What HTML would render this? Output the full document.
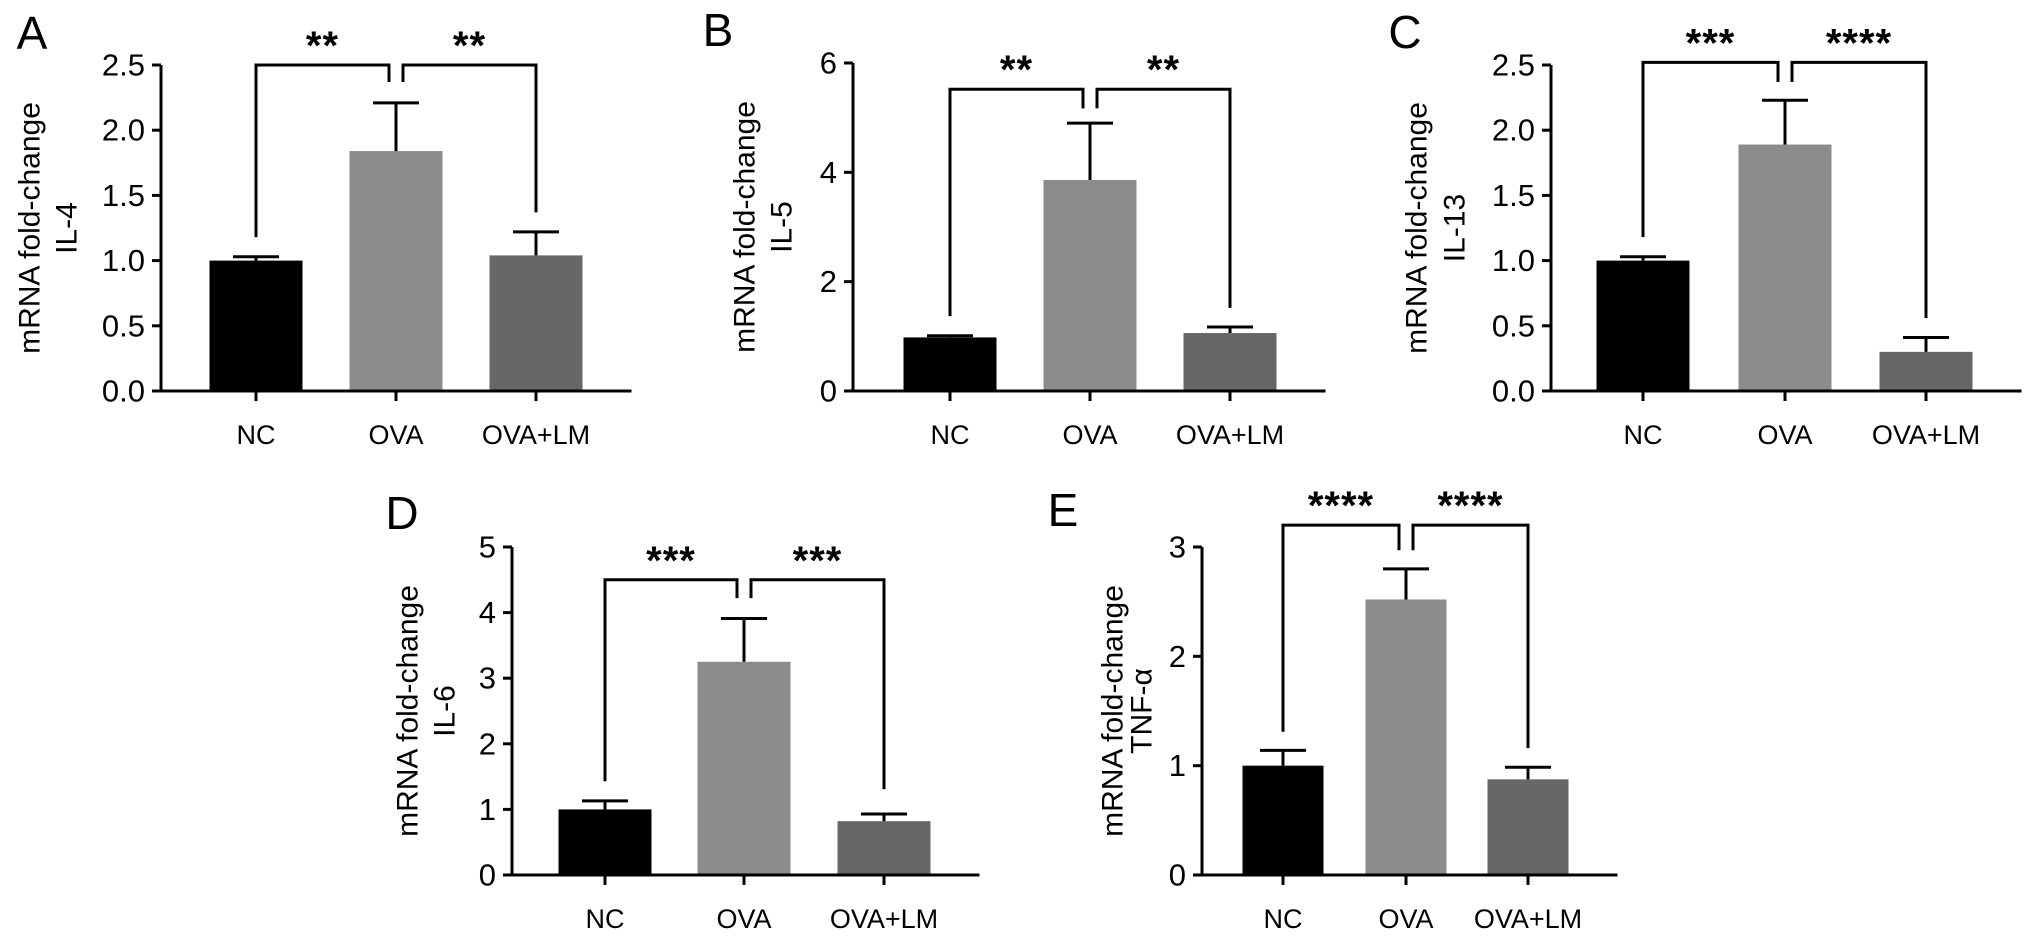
<!DOCTYPE html>
<html><head><meta charset="utf-8">
<style>
html,body{margin:0;padding:0;background:#fff;}
svg{display:block;font-family:"Liberation Sans",Arial,sans-serif;}
</style></head>
<body>
<svg id="fig" width="2032" height="941" viewBox="0 0 2032 941" xmlns="http://www.w3.org/2000/svg"></svg>
<script>
const categories = ["NC","OVA","OVA+LM"];
const barColors = ["#000000","#8c8c8c","#676767"];

const valuesA = [1.0, 1.84, 1.04];
const errorsA = [1.03, 2.21, 1.22];
const ticksA = ["0.0","0.5","1.0","1.5","2.0","2.5"];
const starsA = ["**","**"];
const bracketA = [2.5, 1.18, 2.37, 1.37];

const valuesB = [0.98, 3.86, 1.06];
const errorsB = [1.01, 4.9, 1.17];
const ticksB = ["0","2","4","6"];
const starsB = ["**","**"];
const bracketB = [5.52, 1.37, 5.17, 1.52];

const valuesC = [1.0, 1.89, 0.30];
const errorsC = [1.03, 2.23, 0.41];
const ticksC = ["0.0","0.5","1.0","1.5","2.0","2.5"];
const starsC = ["***","****"];
const bracketC = [2.52, 1.18, 2.37, 0.56];

const valuesD = [1.0, 3.25, 0.82];
const errorsD = [1.13, 3.91, 0.93];
const ticksD = ["0","1","2","3","4","5"];
const starsD = ["***","***"];
const bracketD = [4.5, 1.43, 4.22, 1.31];

const valuesE = [1.0, 2.52, 0.875];
const errorsE = [1.14, 2.80, 0.985];
const ticksE = ["0","1","2","3"];
const starsE = ["****","****"];
const bracketE = [3.2, 1.31, 2.97, 1.16];

const NS = "http://www.w3.org/2000/svg";
const svg = document.getElementById("fig");
function mk(tag, attrs, parent){
  const e = document.createElementNS(NS, tag);
  for (const k in attrs) e.setAttribute(k, attrs[k]);
  (parent||svg).appendChild(e);
  return e;
}

function panel(cfg){
  const g = mk("g", {});
  
  
  const yMax = parseFloat(cfg.ticks[cfg.ticks.length-1]);
  const ys = v => cfg.y0 - (v / yMax) * (cfg.y0 - cfg.yTop);
  const xs = i => cfg.centers[i];
  const lw = 3;

  // letter
  const L = mk("text", {x: cfg.letterX, y: cfg.letterY, "font-size": 46, "text-anchor":"middle", "dominant-baseline":"central", fill:"#000"}, g);
  L.textContent = cfg.letter;
  
  

  // y title
  const midY = (cfg.y0 + cfg.yTop) / 2;
  const t1 = mk("text", {x: cfg.t1x, y: midY, "font-size": 30, "text-anchor":"middle", "dominant-baseline":"central", transform:`rotate(-90 ${cfg.t1x} ${midY})`}, g);
  t1.textContent = "mRNA fold-change";
  
  
  const t2 = mk("text", {x: cfg.t2x, y: midY, "font-size": 30, "text-anchor":"middle", "dominant-baseline":"central", transform:`rotate(-90 ${cfg.t2x} ${midY})`}, g);
  t2.textContent = cfg.gene;
  
  

  // bars
  for (let i = 0; i < categories.length; i++){
    const v = cfg.values[i];
    const r = mk("rect", {x: xs(i) - cfg.barW/2, y: ys(v), width: cfg.barW, height: cfg.y0 - ys(v), fill: barColors[i]}, g);
    
    
    const e = cfg.errors[i];
    const el = mk("path", {d:`M${xs(i)} ${ys(v)} V${ys(e)} M${xs(i)-cfg.capW/2} ${ys(e)} H${xs(i)+cfg.capW/2}`, stroke:"#000", "stroke-width": lw, fill:"none"}, g);
    
    
  }

  // axes
  const axisEnd = xs(2) + cfg.barW/2 + 49;
  const ax = mk("path", {d:`M${cfg.axisX} ${cfg.yTop} V${cfg.y0} M${cfg.axisX-9} ${cfg.y0} H${axisEnd}`, stroke:"#000", "stroke-width": lw, fill:"none"}, g);
  
  
  cfg.ticks.forEach(t => {
    const y = ys(parseFloat(t));
    mk("line", {x1: cfg.axisX-9, x2: cfg.axisX, y1: y, y2: y, stroke:"#000", "stroke-width": lw}, g);
    const tl = mk("text", {x: cfg.axisX-16, y: y, "font-size": 31, "text-anchor":"end", "dominant-baseline":"central"}, g);
    tl.textContent = t;
    
    
  });
  categories.forEach((c, i) => {
    mk("line", {x1: xs(i), x2: xs(i), y1: cfg.y0, y2: cfg.y0+10, stroke:"#000", "stroke-width": lw}, g);
    const cl = mk("text", {x: xs(i), y: cfg.y0+44, "font-size": 27, "text-anchor":"middle", "dominant-baseline":"central"}, g);
    cl.textContent = c;
    
    
  });

  // brackets
  const [bTop, bLeft, bMid, bRight] = cfg.bracket;
  const mL = xs(1) - 7, mR = xs(1) + 7;
  const br1 = mk("path", {d:`M${xs(0)} ${ys(bLeft)} V${ys(bTop)} H${mL} V${ys(bMid)}`, stroke:"#000", "stroke-width": lw, fill:"none"}, g);
  
  
  const br2 = mk("path", {d:`M${mR} ${ys(bMid)} V${ys(bTop)} H${xs(2)} V${ys(bRight)}`, stroke:"#000", "stroke-width": lw, fill:"none"}, g);
  
  
  const s1 = mk("text", {x: (xs(0)+mL)/2, y: ys(bTop) - 21 + 15, "font-size": 40, "font-weight":"bold", "text-anchor":"middle", "letter-spacing":"1"}, g);
  s1.textContent = cfg.stars[0];
  
  
  const s2 = mk("text", {x: (mR+xs(2))/2, y: ys(bTop) - 21 + 15, "font-size": 40, "font-weight":"bold", "text-anchor":"middle", "letter-spacing":"1"}, g);
  s2.textContent = cfg.stars[1];
  
  
}

panel({letter:"A", gene:"IL-4", letterX:32, letterY:33, t1x:30, t2x:67, axisX:161, y0:391, yTop:65, centers:[256,396,536], barW:93, capW:46, values:valuesA, errors:errorsA, ticks:ticksA, stars:starsA, bracket:bracketA});
panel({letter:"B", gene:"IL-5", letterX:718, letterY:30, t1x:745, t2x:782, axisX:853, y0:391, yTop:63, centers:[950,1090,1230], barW:93, capW:46, values:valuesB, errors:errorsB, ticks:ticksB, stars:starsB, bracket:bracketB});
panel({letter:"C", gene:"IL-13", letterX:1405, letterY:32, t1x:1417, t2x:1455, axisX:1551, y0:391, yTop:65, centers:[1643,1785,1926], barW:93, capW:46, values:valuesC, errors:errorsC, ticks:ticksC, stars:starsC, bracket:bracketC});
panel({letter:"D", gene:"IL-6", letterX:402, letterY:513, t1x:408, t2x:445, axisX:512, y0:875, yTop:547, centers:[605,744,884], barW:93, capW:46, values:valuesD, errors:errorsD, ticks:ticksD, stars:starsD, bracket:bracketD});
panel({letter:"E", gene:"TNF-α", letterX:1063, letterY:510, t1x:1113, t2x:1142, axisX:1202, y0:875, yTop:547, centers:[1283,1406,1528], barW:81, capW:46, values:valuesE, errors:errorsE, ticks:ticksE, stars:starsE, bracket:bracketE});
</script>
</body></html>
